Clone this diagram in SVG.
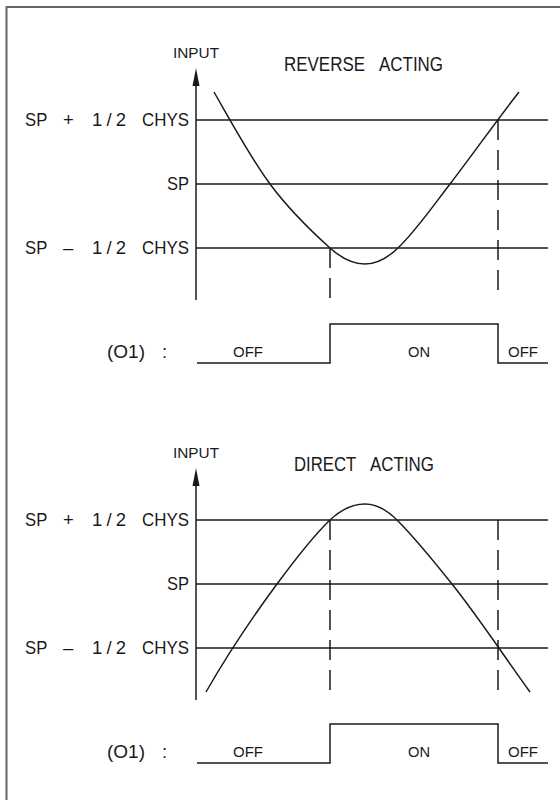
<svg xmlns="http://www.w3.org/2000/svg" width="560" height="800" viewBox="0 0 560 800">
<style>
.ln{stroke:#1a1a1a;stroke-width:1.5;fill:none}
.dash{stroke:#1a1a1a;stroke-width:1.5;fill:none;stroke-dasharray:20 10}
.lbl{font-family:"Liberation Sans",Arial,sans-serif;font-size:18.5px;fill:#1a1a1a}
.ttl{font-family:"Liberation Sans",Arial,sans-serif;font-size:19.5px;fill:#1a1a1a}
.sm{font-family:"Liberation Sans",Arial,sans-serif;font-size:15.5px;fill:#1a1a1a}
.arrow{fill:#1a1a1a}
</style>
<rect width="560" height="800" fill="#ffffff"/>
<path d="M6.5,800 V7 H560" stroke="#666" stroke-width="2" fill="none"/>

<g id="reverse-acting">
  <text class="sm" x="173" y="58" textLength="46" lengthAdjust="spacingAndGlyphs">INPUT</text>
  <text class="ttl" y="71"><tspan x="284" textLength="81" lengthAdjust="spacingAndGlyphs">REVERSE</tspan> <tspan x="379" textLength="64" lengthAdjust="spacingAndGlyphs">ACTING</tspan></text>
  <polygon class="arrow" points="196,68 192.5,86 199.5,86"/>
  <line class="ln" x1="196" y1="84" x2="196" y2="300"/>
  <line class="ln" x1="196" y1="120" x2="548" y2="120"/>
  <line class="ln" x1="196" y1="184" x2="548" y2="184"/>
  <line class="ln" x1="196" y1="248" x2="548" y2="248"/>
  <text class="lbl" y="126"><tspan x="25" textLength="22" lengthAdjust="spacingAndGlyphs">SP</tspan> <tspan x="63">+</tspan> <tspan x="92" textLength="34" lengthAdjust="spacing">1/2</tspan> <tspan x="142" textLength="47" lengthAdjust="spacingAndGlyphs">CHYS</tspan></text>
  <text class="lbl" x="167" y="190" textLength="22" lengthAdjust="spacingAndGlyphs">SP</text>
  <text class="lbl" y="254"><tspan x="25" textLength="22" lengthAdjust="spacingAndGlyphs">SP</tspan> <tspan x="63">–</tspan> <tspan x="92" textLength="34" lengthAdjust="spacing">1/2</tspan> <tspan x="142" textLength="47" lengthAdjust="spacingAndGlyphs">CHYS</tspan></text>
  <path class="ln" d="M214,92 C232.7,124.7 251.3,158.8 270,184 C290,211 310,230 330,248 C341.7,258.5 353.3,264 365,264 C376,264 387,258.5 398,248 C415.3,231.5 432.7,206.5 450,184 C473,154.1 496,121.2 519,92"/>
  <line class="dash" x1="330" y1="248" x2="330" y2="300"/>
  <line class="dash" x1="498" y1="120" x2="498" y2="300"/>
  <text class="lbl" y="358"><tspan x="107" textLength="38" lengthAdjust="spacingAndGlyphs">(O1)</tspan> <tspan x="162">:</tspan></text>
  <path class="ln" d="M197,363 H330 V324 H498 V363 H548"/>
  <text class="sm" x="233" y="357" textLength="30" lengthAdjust="spacingAndGlyphs">OFF</text>
  <text class="sm" x="408" y="357" textLength="22" lengthAdjust="spacingAndGlyphs">ON</text>
  <text class="sm" x="508" y="357" textLength="30" lengthAdjust="spacingAndGlyphs">OFF</text>
</g>

<g id="direct-acting">
  <text class="sm" x="173" y="458" textLength="46" lengthAdjust="spacingAndGlyphs">INPUT</text>
  <text class="ttl" y="471"><tspan x="294" textLength="62" lengthAdjust="spacingAndGlyphs">DIRECT</tspan> <tspan x="370" textLength="64" lengthAdjust="spacingAndGlyphs">ACTING</tspan></text>
  <polygon class="arrow" points="196,468 192.5,486 199.5,486"/>
  <line class="ln" x1="196" y1="484" x2="196" y2="700"/>
  <line class="ln" x1="196" y1="520" x2="548" y2="520"/>
  <line class="ln" x1="196" y1="584" x2="548" y2="584"/>
  <line class="ln" x1="196" y1="648" x2="548" y2="648"/>
  <text class="lbl" y="526"><tspan x="25" textLength="22" lengthAdjust="spacingAndGlyphs">SP</tspan> <tspan x="63">+</tspan> <tspan x="92" textLength="34" lengthAdjust="spacing">1/2</tspan> <tspan x="142" textLength="47" lengthAdjust="spacingAndGlyphs">CHYS</tspan></text>
  <text class="lbl" x="167" y="590" textLength="22" lengthAdjust="spacingAndGlyphs">SP</text>
  <text class="lbl" y="654"><tspan x="25" textLength="22" lengthAdjust="spacingAndGlyphs">SP</tspan> <tspan x="63">–</tspan> <tspan x="92" textLength="34" lengthAdjust="spacing">1/2</tspan> <tspan x="142" textLength="47" lengthAdjust="spacingAndGlyphs">CHYS</tspan></text>
  <path class="ln" d="M206,692 C229.7,650.6 253.3,616 277,584 C294.7,560.1 312.3,536.8 330,520 C341.7,508.9 353.3,504 365,504 C375.7,504 386.3,509.3 397,520 C415.3,538.3 433.7,561.1 452,584 C478,616.5 504,656.1 530,692"/>
  <line class="dash" x1="330" y1="520" x2="330" y2="700"/>
  <line class="dash" x1="498" y1="520" x2="498" y2="700"/>
  <text class="lbl" y="758"><tspan x="107" textLength="38" lengthAdjust="spacingAndGlyphs">(O1)</tspan> <tspan x="162">:</tspan></text>
  <path class="ln" d="M197,763 H330 V724 H498 V763 H548"/>
  <text class="sm" x="233" y="757" textLength="30" lengthAdjust="spacingAndGlyphs">OFF</text>
  <text class="sm" x="408" y="757" textLength="22" lengthAdjust="spacingAndGlyphs">ON</text>
  <text class="sm" x="508" y="757" textLength="30" lengthAdjust="spacingAndGlyphs">OFF</text>
</g>
</svg>
